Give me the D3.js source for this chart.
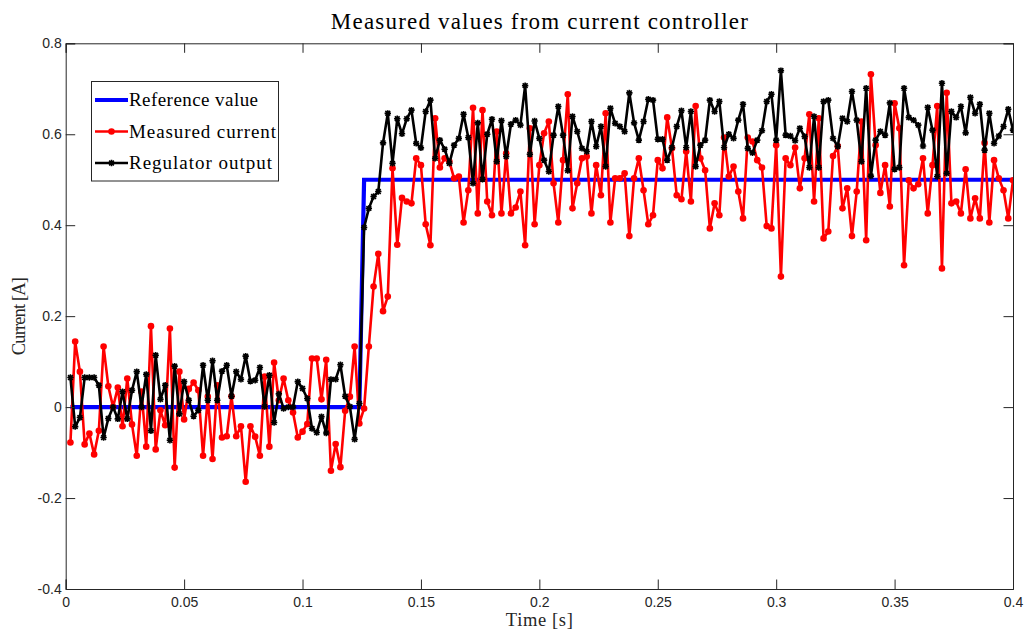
<!DOCTYPE html>
<html>
<head>
<meta charset="utf-8">
<script src="https://cdn.jsdelivr.net/npm/d3@7"></script>
<style>
  html, body { margin: 0; padding: 0; background: #fff; }
  svg { display: block; }
</style>
</head>
<body>
<div id="chart"></div>
<script>
// ---------- data ----------
const sampleStep = 0.002;            // sampling period [s]
const stepIndex = 63;                // first sample where the reference is 0.5
const referenceLevels = [0, 0.5];

const measuredCurrent = [
 -0.078, 0.144, 0.078, -0.082, -0.058, -0.104, -0.052, 0.133, 0.046, 0.0,
 0.043, -0.042, 0.063, -0.038, -0.107, 0.034, -0.087, 0.178, -0.093, -0.007,
 -0.04, 0.173, -0.133, 0.078, -0.027, 0.04, 0.054, 0.037, -0.107, 0.023,
 -0.114, 0.048, -0.067, -0.064, 0.024, -0.064, -0.042, -0.164, -0.042, -0.065,
 -0.107, 0.067, -0.087, 0.098, 0.015, 0.063, 0.015, -0.012, -0.067, -0.054,
 -0.037, 0.107, 0.107, 0.017, 0.104, -0.14, -0.081, -0.132, -0.008, 0.023,
 0.133, -0.036, -0.003, 0.133, 0.265, 0.337, 0.211, 0.243, 0.525, 0.357,
 0.46, 0.452, 0.448, 0.547, 0.532, 0.402, 0.356, 0.635, 0.527, 0.547,
 0.54, 0.503, 0.507, 0.406, 0.477, 0.658, 0.426, 0.653, 0.452, 0.422,
 0.606, 0.426, 0.558, 0.426, 0.439, 0.474, 0.356, 0.613, 0.402, 0.532,
 0.602, 0.628, 0.492, 0.406, 0.543, 0.688, 0.437, 0.492, 0.547, 0.551,
 0.426, 0.532, 0.466, 0.646, 0.406, 0.503, 0.503, 0.514, 0.376, 0.503,
 0.547, 0.477, 0.402, 0.422, 0.543, 0.525, 0.637, 0.569, 0.466, 0.457,
 0.562, 0.452, 0.662, 0.547, 0.521, 0.393, 0.448, 0.422, 0.593, 0.507,
 0.529, 0.474, 0.415, 0.593, 0.584, 0.543, 0.527, 0.398, 0.393, 0.576,
 0.287, 0.547, 0.532, 0.571, 0.481, 0.547, 0.644, 0.452, 0.635, 0.371,
 0.386, 0.552, 0.574, 0.437, 0.481, 0.376, 0.474, 0.628, 0.367, 0.732,
 0.576, 0.471, 0.532, 0.441, 0.668, 0.613, 0.312, 0.499, 0.481, 0.49,
 0.547, 0.426, 0.532, 0.662, 0.305, 0.691, 0.448, 0.452, 0.426, 0.523,
 0.415, 0.459, 0.415, 0.581, 0.406, 0.543, 0.503, 0.477, 0.415, 0.499
];

const regulatorOutput = [
 0.065, -0.043, -0.023, 0.065, 0.065, 0.065, 0.048, -0.067, -0.025, 0.0,
 -0.026, 0.034, -0.026, 0.037, 0.078, 0.0, 0.072, -0.052, 0.114, 0.017,
 0.048, -0.073, 0.09, -0.015, 0.056, 0.015, -0.02, -0.007, 0.092, 0.015,
 0.102, 0.015, 0.079, 0.092, 0.024, 0.078, 0.061, 0.112, 0.057, 0.059,
 0.087, 0.001, 0.07, -0.034, 0.029, -0.003, 0.0, 0.0, 0.056, 0.041,
 0.019, -0.047, -0.056, -0.021, -0.057, 0.061, 0.061, 0.093, 0.024, 0.001,
 -0.071, 0.008, 0.395, 0.437, 0.463, 0.474, 0.581, 0.646, 0.536, 0.634,
 0.601, 0.634, 0.653, 0.58, 0.57, 0.65, 0.675, 0.547, 0.587, 0.567,
 0.536, 0.576, 0.591, 0.644, 0.593, 0.492, 0.625, 0.501, 0.6, 0.633,
 0.54, 0.63, 0.551, 0.622, 0.631, 0.62, 0.707, 0.556, 0.629, 0.591,
 0.543, 0.518, 0.598, 0.661, 0.598, 0.52, 0.639, 0.606, 0.569, 0.562,
 0.628, 0.573, 0.617, 0.529, 0.657, 0.624, 0.617, 0.606, 0.691, 0.625,
 0.587, 0.628, 0.677, 0.675, 0.589, 0.589, 0.543, 0.571, 0.617, 0.652,
 0.571, 0.65, 0.529, 0.576, 0.587, 0.675, 0.65, 0.672, 0.571, 0.6,
 0.591, 0.631, 0.666, 0.569, 0.559, 0.587, 0.608, 0.672, 0.688, 0.587,
 0.74, 0.598, 0.596, 0.586, 0.613, 0.595, 0.527, 0.639, 0.527, 0.672,
 0.675, 0.591, 0.573, 0.635, 0.628, 0.694, 0.631, 0.54, 0.701, 0.508,
 0.587, 0.606, 0.598, 0.669, 0.523, 0.527, 0.701, 0.637, 0.631, 0.62,
 0.574, 0.659, 0.609, 0.507, 0.712, 0.514, 0.65, 0.637, 0.661, 0.603,
 0.681, 0.646, 0.666, 0.565, 0.646, 0.58, 0.596, 0.617, 0.655, 0.609
];

const xTickValues = [0, 0.05, 0.1, 0.15, 0.2, 0.25, 0.3, 0.35, 0.4];
const xTickLabels = ["0", "0.05", "0.1", "0.15", "0.2", "0.25", "0.3", "0.35", "0.4"];
const yTickValues = [-0.4, -0.2, 0, 0.2, 0.4, 0.6, 0.8];
const yTickLabels = ["-0.4", "-0.2", "0", "0.2", "0.4", "0.6", "0.8"];
const seriesNames = ["Reference value", "Measured current", "Regulator output"];
const titleText = "Measured values from current controller";
const xLabelText = "Time [s]";
const yLabelText = "Current [A]";

// ---------- derived tables ----------
const times = measuredCurrent.map((_, i) => +((i + 1) * sampleStep).toFixed(3));
const reference = times.map((t, i) => (i + 1) < stepIndex ? referenceLevels[0] : referenceLevels[1]);
const refData = times.map((t, i) => ({ t, v: reference[i] }));
const curData = times.map((t, i) => ({ t, v: measuredCurrent[i] }));
const regData = times.map((t, i) => ({ t, v: regulatorOutput[i] }));

// ---------- layout ----------
const W = 1027, H = 630;
const m = { left: 65.7, right: W - 1013, top: 43.3, bottom: H - 589 };
const pw = W - m.left - m.right, ph = H - m.top - m.bottom;

const svg = d3.select("#chart").append("svg").attr("width", W).attr("height", H);

const x = d3.scaleLinear().domain([0, 0.4]).range([m.left, m.left + pw]);
const y = d3.scaleLinear().domain([-0.4, 0.8]).range([m.top + ph, m.top]);

const axisColor = "#262626";
const serif = "'Liberation Serif', 'Times New Roman', serif";
const sans = "'Liberation Sans', Arial, Helvetica, sans-serif";

const clipId = "plotclip";
svg.append("clipPath").attr("id", clipId).append("rect")
  .attr("x", m.left).attr("y", m.top).attr("width", pw).attr("height", ph);

const plot = svg.append("g").attr("clip-path", `url(#${clipId})`);
const line = d3.line().x(d => x(d.t)).y(d => y(d.v));

// reference
plot.append("path").datum(refData).attr("d", line)
  .attr("fill", "none").attr("stroke", "#0000ff").attr("stroke-width", 4.2)
  .attr("stroke-linejoin", "miter");

// measured current
plot.append("path").datum(curData).attr("d", line)
  .attr("fill", "none").attr("stroke", "#ff0000").attr("stroke-width", 2.6)
  .attr("stroke-linejoin", "round");
plot.append("g").selectAll("circle").data(curData).join("circle")
  .attr("cx", d => x(d.t)).attr("cy", d => y(d.v)).attr("r", 3.3)
  .attr("fill", "#ff0000");

// regulator output
plot.append("path").datum(regData).attr("d", line)
  .attr("fill", "none").attr("stroke", "#000000").attr("stroke-width", 2.6)
  .attr("stroke-linejoin", "round");
const star = "M-3.2,0H3.2M0,-3.2V3.2M-2.4,-2.4L2.4,2.4M-2.4,2.4L2.4,-2.4";
plot.append("g").selectAll("path").data(regData).join("path")
  .attr("transform", d => `translate(${x(d.t)},${y(d.v)})`)
  .attr("d", star).attr("stroke", "#000").attr("stroke-width", 1.6).attr("fill", "none");

// ---------- axes (box with inward ticks on all sides) ----------
const tl = 9.5;
const gB = svg.append("g").attr("transform", `translate(0,${m.top + ph})`)
  .call(d3.axisBottom(x).tickValues(xTickValues).tickSize(-tl).tickPadding(6)
        .tickFormat((d, i) => xTickLabels[i]));
const gT = svg.append("g").attr("transform", `translate(0,${m.top})`)
  .call(d3.axisTop(x).tickValues(xTickValues).tickSize(-tl).tickFormat(""));
const gL = svg.append("g").attr("transform", `translate(${m.left},0)`)
  .call(d3.axisLeft(y).tickValues(yTickValues).tickSize(-tl).tickPadding(4)
        .tickFormat((d, i) => yTickLabels[i]));
const gR = svg.append("g").attr("transform", `translate(${m.left + pw},0)`)
  .call(d3.axisRight(y).tickValues(yTickValues).tickSize(-tl).tickFormat(""));

[gB, gT, gL, gR].forEach(g => {
  g.select(".domain").attr("stroke", axisColor).attr("stroke-width", 1);
  g.selectAll(".tick line").attr("stroke", axisColor).attr("stroke-width", 1);
  g.selectAll(".tick text").attr("fill", axisColor)
    .style("font-family", sans).style("font-size", "14px");
});
gB.selectAll(".tick text").attr("dy", "0.85em");

// ---------- titles ----------
svg.append("text").attr("x", x(0.2)).attr("y", 28.5)
  .attr("text-anchor", "middle").style("font-family", serif).style("font-size", "23px")
  .attr("textLength", 417).attr("lengthAdjust", "spacing")
  .attr("fill", "#000").text(titleText);
svg.append("text").attr("x", x(0.2)).attr("y", 625.5)
  .attr("text-anchor", "middle").style("font-family", serif).style("font-size", "18.5px")
  .attr("textLength", 67).attr("lengthAdjust", "spacing")
  .attr("fill", axisColor).text(xLabelText);
svg.append("text").attr("transform", `translate(25,${y(0.2)}) rotate(-90)`)
  .attr("text-anchor", "middle").style("font-family", serif).style("font-size", "18.5px")
  .attr("textLength", 78).attr("lengthAdjust", "spacing")
  .attr("fill", axisColor).text(yLabelText);

// ---------- legend ----------
const lg = svg.append("g");
lg.append("rect").attr("x", 91.5).attr("y", 81.5).attr("width", 187).attr("height", 99.5)
  .attr("fill", "#fff").attr("stroke", axisColor).attr("stroke-width", 1);
const rowsY = [100, 131.5, 163];
const colors = ["#0000ff", "#ff0000", "#000000"];
const widths = [4.2, 2.6, 2.6];
const textLens = [129, 147, 143];
seriesNames.forEach((name, i) => {
  lg.append("line").attr("x1", 95).attr("x2", 128).attr("y1", rowsY[i]).attr("y2", rowsY[i])
    .attr("stroke", colors[i]).attr("stroke-width", widths[i]);
  if (i === 1) lg.append("circle").attr("cx", 111.5).attr("cy", rowsY[i]).attr("r", 3.3).attr("fill", "#ff0000");
  if (i === 2) lg.append("path").attr("transform", `translate(111.5,${rowsY[i]})`)
    .attr("d", star).attr("stroke", "#000").attr("stroke-width", 1.6);
  lg.append("text").attr("x", 129).attr("y", rowsY[i]).attr("dy", "0.33em")
    .style("font-family", serif).style("font-size", "19px")
    .attr("textLength", textLens[i]).attr("lengthAdjust", "spacing")
    .attr("fill", "#000").text(name);
});
</script>
</body>
</html>
